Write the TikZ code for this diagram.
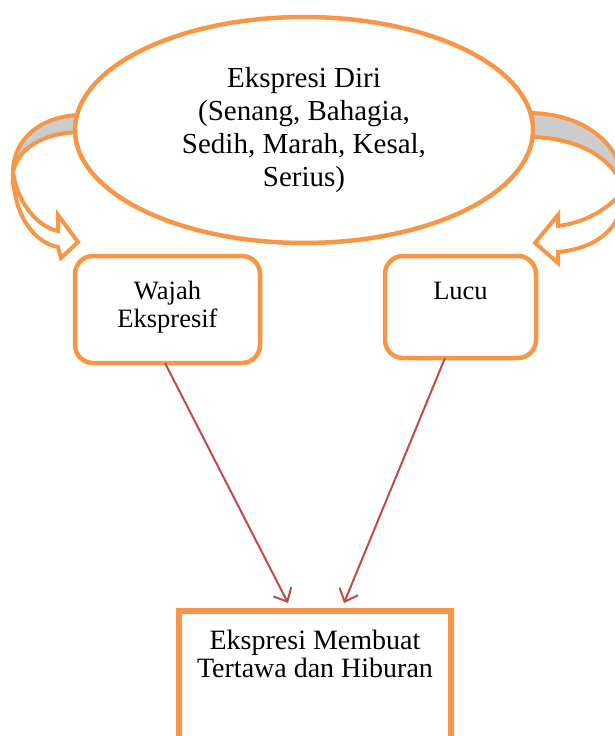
\documentclass[tikz,border=0pt]{standalone}
\usepackage{fontspec}
\setmainfont{Liberation Serif}
\usetikzlibrary{shapes.geometric,arrows.meta}

\definecolor{accorange}{HTML}{F79646}
\definecolor{arrowred}{HTML}{BE4B48}
\definecolor{bandgray}{HTML}{CCCCCC}

\tikzset{
    band/.style={draw=accorange, line width=4pt, line join=miter},
    card/.style={draw=accorange, line width=4.5pt, rounded corners=18pt, fill=white,
        inner sep=0pt, outer sep=0pt, minimum width=185pt, align=center,
        font=\fontsize{26.5}{28}\selectfont},
    pointer/.style={draw=arrowred, line width=2pt, -{Straight Barb[length=11pt,width=20pt]}},
}

\begin{document}
\begin{tikzpicture}[x=1pt,y=-1pt]
                \useasboundingbox (0,0) rectangle (615,736);

                % curved arrows left and right
                \filldraw[band, fill=bandgray] (80,115) .. controls (40,116) and (13,140) .. (13,172)
                    .. controls (18,150) and (40,133) .. (80,132) -- cycle;
                \filldraw[band, fill=white] (13,172) .. controls (13,216) and (35,243) .. (58,247)
                    -- (61,258) -- (78,242) -- (58,215) -- (58,231)
                    .. controls (35,226) and (17,200) .. (13,172) -- cycle;
                \filldraw[band, fill=bandgray] (528,113) .. controls (585,113) and (624,145) .. (624,190)
                    .. controls (615,160) and (580,137) .. (528,137) -- cycle;
                \filldraw[band, fill=white] (624,190) .. controls (624,225) and (600,248) .. (558,252)
                    -- (558,263) -- (535,243) -- (558,215) -- (558,226)
                    .. controls (590,222) and (612,205) .. (624,190) -- cycle;

                \node[ellipse, draw=accorange, line width=4.5pt, fill=white, minimum width=458pt,
                    minimum height=226pt, inner sep=0pt, align=center,
                    font=\fontsize{29}{33}\selectfont] (diri) at (304,130)
                    {Ekspresi Diri\\(Senang, Bahagia,\\Sedih, Marah, Kesal,\\Serius)};

                \node[card, anchor=north, text height=71pt, text depth=36pt] (wajah) at (167.5,256) {Wajah\\Ekspresif};
                \node[card, anchor=north, text height=43pt, text depth=59pt, minimum width=151pt] (lucu) at (460.5,256) {Lucu};
                \node[card, sharp corners, line width=5.5pt, minimum width=272pt, anchor=north,
                    text height=66pt, text depth=110pt, font=\fontsize{28}{28}\selectfont] (hiburan) at (315,611)
                    {Ekspresi Membuat\\Tertawa dan Hiburan};

                \draw[pointer] ([xshift=-2.5pt]wajah.south) -- ([xshift=-27pt,yshift=8pt]hiburan.north);
                \draw[pointer] ([xshift=-15.5pt]lucu.south) -- ([xshift=29pt,yshift=8pt]hiburan.north);

            \end{tikzpicture}
\end{document}
